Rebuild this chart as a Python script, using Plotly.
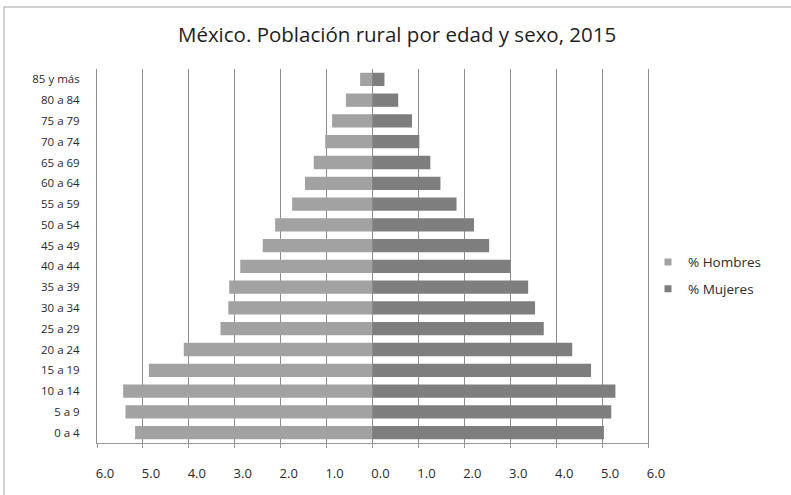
import plotly.graph_objects as go

# Grupos de edad (de abajo hacia arriba)
grupos = ["0 a 4", "5 a 9", "10 a 14", "15 a 19", "20 a 24", "25 a 29", "30 a 34",
          "35 a 39", "40 a 44", "45 a 49", "50 a 54", "55 a 59", "60 a 64",
          "65 a 69", "70 a 74", "75 a 79", "80 a 84", "85 y más"]

# Porcentaje de la población rural por sexo
hombres = [5.17, 5.38, 5.43, 4.87, 4.11, 3.31, 3.14, 3.12, 2.88, 2.39, 2.12,
           1.75, 1.47, 1.28, 1.03, 0.88, 0.58, 0.27]
mujeres = [5.04, 5.20, 5.29, 4.76, 4.35, 3.73, 3.54, 3.39, 3.00, 2.54, 2.21,
           1.83, 1.48, 1.26, 1.02, 0.86, 0.56, 0.26]

tick_vals = [-6, -5, -4, -3, -2, -1, 0, 1, 2, 3, 4, 5, 6]
tick_text = ["6.0", "5.0", "4.0", "3.0", "2.0", "1.0", "0.0",
             "1.0", "2.0", "3.0", "4.0", "5.0", "6.0"]

color_h = "#a2a2a2"
color_m = "#7e7e7e"

fig = go.Figure()
fig.add_trace(go.Bar(
    y=grupos, x=[-v for v in hombres], orientation="h", name="% Hombres",
    marker=dict(color=color_h, line=dict(width=0)), showlegend=False,
))
fig.add_trace(go.Bar(
    y=grupos, x=mujeres, orientation="h", name="% Mujeres",
    marker=dict(color=color_m, line=dict(width=0)), showlegend=False,
))
# small square keys for the legend
for nombre, color, grupo in [("% Hombres", color_h, "h"), ("% Mujeres", color_m, "m")]:
    fig.add_trace(go.Scatter(
        x=[None], y=[None], mode="markers", name=nombre, legendgroup=grupo,
        marker=dict(symbol="square", size=7, color=color),
    ))

fig.update_layout(
    width=791, height=495,
    margin=dict(l=97, r=143, t=69, b=52),
    paper_bgcolor="white", plot_bgcolor="white",
    barmode="overlay", bargap=0.36,
    font=dict(family="Open Sans", color="#2a2a2a"),
    title=dict(text="México. Población rural por edad y sexo, 2015",
               x=0.502, xanchor="center", y=0.93, yanchor="middle",
               font=dict(family="Open Sans", size=20.5, color="#1e1e1e")),
    xaxis=dict(range=[-6, 6], tickvals=tick_vals, ticktext=tick_text,
               showgrid=True, gridcolor="#8c8c8c", gridwidth=1,
               zeroline=False, showline=True, linecolor="#9a9a9a", linewidth=1,
               ticks="outside", ticklen=4, tickcolor="#9a9a9a",
               ticklabelstandoff=14, ticklabelshift=8,
               tickfont=dict(size=13, color="#2a2a2a")),
    yaxis=dict(categoryorder="array", categoryarray=grupos,
               showgrid=False, showline=True, mirror=True,
               linecolor="#8c8c8c", linewidth=1, ticks="",
               ticklabelstandoff=14,
               tickfont=dict(size=11.5, color="#2a2a2a")),
    legend=dict(x=1.0, xanchor="left", y=0.447, yanchor="middle",
                traceorder="grouped", tracegroupgap=6,
                font=dict(size=13.5, color="#2a2a2a"),
                itemwidth=30, bgcolor="rgba(0,0,0,0)"),
    shapes=[dict(type="rect", xref="paper", yref="paper",
                 x0=(4 - 97) / 551, x1=1.6, y0=-0.5, y1=(443 - 7) / 374,
                 line=dict(color="#c4c4c4", width=1.5), layer="below")],
)

fig.write_html("out.html")
